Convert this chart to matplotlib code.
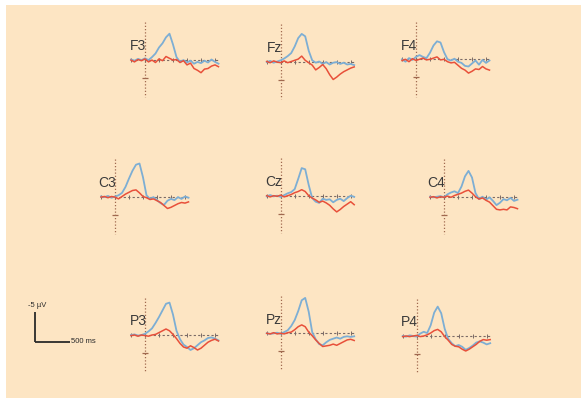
import numpy as np
import matplotlib
matplotlib.use("Agg")
import matplotlib.pyplot as plt
from matplotlib.patches import Rectangle

# ---------------- data ----------------
times = [-200, -150, -100, -50, 0, 50, 100, 150, 200, 250, 300, 350, 400, 450,
         500, 550, 600, 650, 700, 750, 800, 850, 900, 950, 1000, 1050]  # ms

channels = ["F3", "Fz", "F4", "C3", "Cz", "C4", "P3", "Pz", "P4"]

blue_F3 = [0, 0.2, -0.1, 0.1, -0.2, 0.1, -0.4, -1.0, -2.0, -2.7, -3.7, -4.3, -2.5, -0.4, 0.4, 0.1, 0.5, 0.2, 0.7, 0.4, 0.6, 0.2, 0.5, 0.0, 0.4, 0.7]
red_F3 = [0.1, 0.4, 0.0, 0.2, -0.1, 0.4, 0.1, 0.5, -0.1, 0.2, -0.5, -0.2, 0.1, 0.0, 0.5, 0.2, 0.9, 0.6, 1.5, 1.8, 2.2, 1.6, 1.5, 1.1, 0.9, 1.2]
blue_Fz = [0.1, -0.1, 0.2, 0.0, -0.2, -0.5, -0.9, -1.4, -2.5, -3.9, -4.6, -4.2, -1.8, -0.2, 0.2, 0.0, 0.4, 0.1, 0.5, 0.2, 0.1, 0.4, 0.2, 0.5, 0.4, 0.6]
red_Fz = [0.0, 0.2, -0.1, 0.1, 0.2, -0.1, 0.2, 0.0, -0.2, -0.4, -0.9, -0.2, 0.2, 0.6, 1.4, 1.0, 0.5, 1.2, 2.2, 3.0, 2.6, 2.1, 1.7, 1.4, 1.1, 0.9]
blue_F4 = [0.0, 0.4, -0.2, 0.1, -0.4, -0.7, -0.4, -0.2, -1.1, -2.3, -3.0, -2.8, -1.2, 0.0, 0.2, -0.1, 0.4, 0.6, 1.1, 1.2, 0.7, 0.2, 0.9, 0.1, 0.6, 0.2]
red_F4 = [0.2, 0.0, 0.4, -0.1, 0.2, 0.0, -0.2, 0.1, 0.0, -0.2, -0.4, 0.1, 0.0, 0.4, 0.6, 0.5, 1.0, 1.5, 1.8, 2.3, 2.0, 1.6, 1.7, 1.2, 1.6, 1.8]
blue_C3 = [0.0, 0.1, -0.1, 0.2, 0.0, -0.2, -0.6, -1.6, -3.0, -4.3, -5.3, -5.5, -3.2, -0.2, 0.4, 0.1, 0.6, 1.1, 1.4, 0.7, 0.4, 0.6, 0.1, 0.4, 0.0, 0.2]
red_C3 = [0.1, 0.0, 0.2, 0.0, 0.1, 0.4, 0.0, -0.4, -0.7, -1.0, -1.1, -0.6, 0.0, 0.2, 0.5, 0.4, 0.7, 1.0, 1.5, 2.0, 1.8, 1.5, 1.2, 1.0, 1.1, 0.9]
blue_Cz = [0.1, -0.1, 0.1, 0.0, 0.2, -0.1, -0.4, -0.6, -1.1, -2.8, -4.6, -4.4, -1.8, 0.4, 1.0, 1.2, 0.5, 0.7, 0.6, 1.1, 0.7, 0.5, 0.9, 0.4, 0.0, 0.2]
red_Cz = [0.0, 0.2, 0.0, 0.1, -0.1, 0.2, 0.0, -0.2, -0.5, -0.7, -1.0, -0.7, 0.0, 0.4, 0.7, 1.1, 0.9, 1.2, 1.6, 2.2, 2.7, 2.3, 1.8, 1.4, 1.0, 1.5]
blue_C4 = [0.0, 0.1, 0.0, -0.1, 0.1, -0.4, -0.7, -0.9, -0.6, -1.7, -3.4, -4.3, -3.2, -0.6, 0.4, 0.0, 0.5, 0.1, 0.7, 1.4, 1.0, 0.4, 0.6, 0.2, 0.7, 0.5]
red_C4 = [0.1, 0.0, 0.2, 0.0, 0.1, -0.1, 0.1, -0.2, -0.4, -0.6, -0.9, -1.1, -0.6, 0.0, 0.4, 0.2, 0.6, 0.9, 1.5, 2.1, 2.2, 2.1, 2.2, 1.7, 1.8, 2.0]
blue_P3 = [0.0, -0.1, 0.1, 0.0, -0.2, -0.6, -1.1, -2.0, -3.0, -4.1, -5.2, -5.4, -3.4, -0.7, 0.7, 1.6, 2.0, 2.5, 2.2, 1.7, 1.2, 0.9, 0.5, 0.4, 0.6, 0.9]
red_P3 = [0.1, 0.0, 0.2, 0.0, 0.1, 0.2, 0.0, -0.1, -0.4, -0.7, -1.0, -0.7, -0.1, 0.6, 1.4, 2.0, 2.2, 1.8, 2.1, 2.5, 2.2, 1.7, 1.2, 0.9, 0.7, 1.0]
blue_Pz = [0.0, 0.1, 0.0, -0.1, 0.1, -0.2, -0.5, -1.2, -2.2, -3.7, -5.5, -5.9, -3.6, -0.2, 1.0, 1.8, 2.0, 1.5, 1.1, 0.9, 0.7, 0.9, 0.6, 0.5, 0.6, 0.5]
red_Pz = [0.0, 0.1, -0.1, 0.1, 0.0, 0.1, -0.1, -0.2, -0.6, -1.1, -1.4, -1.1, -0.2, 0.4, 1.1, 1.7, 2.2, 2.1, 2.0, 1.8, 2.0, 1.7, 1.4, 1.1, 1.0, 1.2]
blue_P4 = [0.0, 0.1, -0.1, 0.0, 0.1, -0.4, -0.7, -0.5, -1.8, -3.9, -4.9, -3.8, -1.2, 0.5, 1.2, 1.7, 1.5, 1.8, 2.3, 2.0, 1.6, 1.1, 0.9, 1.1, 1.4, 1.2]
red_P4 = [0.1, 0.0, 0.1, 0.0, -0.1, 0.1, 0.0, -0.2, -0.5, -0.9, -1.1, -0.7, 0.1, 0.7, 1.4, 1.7, 1.8, 2.2, 2.5, 2.2, 1.8, 1.4, 0.9, 0.6, 0.7, 0.6]

blue_series = [blue_F3, blue_Fz, blue_F4, blue_C3, blue_Cz, blue_C4, blue_P3, blue_Pz, blue_P4]
red_series = [red_F3, red_Fz, red_F4, red_C3, red_Cz, red_C4, red_P3, red_Pz, red_P4]

# ---------------- layout (pixels) ----------------
W, H = 581, 398
PX_PER_MS = 0.07
PX_PER_UV = 6.0
XMIN, XMAX = -250, 1100
YLIM = 7.0

# (x of time-zero line, y of baseline) in pixels
origins = [(145, 59.5), (280.7, 61.5), (416, 59.3),
           (115, 196.5), (280.7, 195.7), (444, 196.7),
           (145, 335), (280.7, 333.3), (416.7, 336)]

BG = "#FDE5C3"
BLUE = "#7DAED4"
RED = "#E8503A"
AXCOL = "#A0694F"

fig = plt.figure(figsize=(W / 100, H / 100), dpi=100)
fig.patch.set_facecolor("white")
fig.patches.append(Rectangle((6 / W, 0.0), 1 - 6 / W, 1 - 5 / H,
                             transform=fig.transFigure, facecolor=BG,
                             edgecolor="none", zorder=-10))


def add_panel(x0, y0):
    wpx = (XMAX - XMIN) * PX_PER_MS
    hpx = 2 * YLIM * PX_PER_UV
    left = (x0 + XMIN * PX_PER_MS) / W
    bottom = 1 - (y0 + YLIM * PX_PER_UV) / H
    ax = fig.add_axes([left, bottom, wpx / W, hpx / H])
    ax.set_xlim(XMIN, XMAX)
    ax.set_ylim(YLIM, -YLIM)  # negative up
    ax.axis("off")
    ax.patch.set_alpha(0)
    return ax


for ch, (x0, y0), b, r in zip(channels, origins, blue_series, red_series):
    ax = add_panel(x0, y0)
    # time-zero dotted line
    ax.plot([0, 0], [-6.2, 6.2], color=AXCOL, lw=0.9, ls=(0, (1, 1.6)), zorder=1)
    ax.plot([0], [3.0], marker="_", ms=5, color=AXCOL, mew=0.9, zorder=1)
    # baseline
    ax.plot([times[0], times[-1]], [0, 0], color="#7a6a66", lw=0.8,
            ls=(0, (2, 2)), zorder=1)
    ax.plot(times[::4], [0] * len(times[::4]), ls="none", marker="|", ms=3,
            color="#7a6a66", mew=0.7, zorder=1)
    ax.plot(times, b, color=BLUE, lw=1.3, zorder=2)
    ax.plot(times, r, color=RED, lw=1.1, zorder=3)
    ax.text(20, -2.3, ch, ha="right", va="center", fontsize=10,
            color="#3a3a3a", family="Liberation Sans", zorder=4)

# scale bar panel
sx0, sy0 = 35, 341.7
ax = add_panel(sx0, sy0)
ax.plot([0, 0], [0, -5], color="#2a2a2a", lw=1.3, solid_capstyle="butt")
ax.plot([0, 500], [0, 0], color="#2a2a2a", lw=1.3, solid_capstyle="butt")
ax.text(30, -6.0, "-5 \u00b5V", ha="center", va="center", fontsize=5.5,
        color="#2a2a2a", family="Liberation Sans")
ax.text(510, 0, "500 ms", ha="left", va="center", fontsize=5.5,
        color="#2a2a2a", family="Liberation Sans")

fig.savefig("out.png", dpi=100, facecolor=fig.get_facecolor())
